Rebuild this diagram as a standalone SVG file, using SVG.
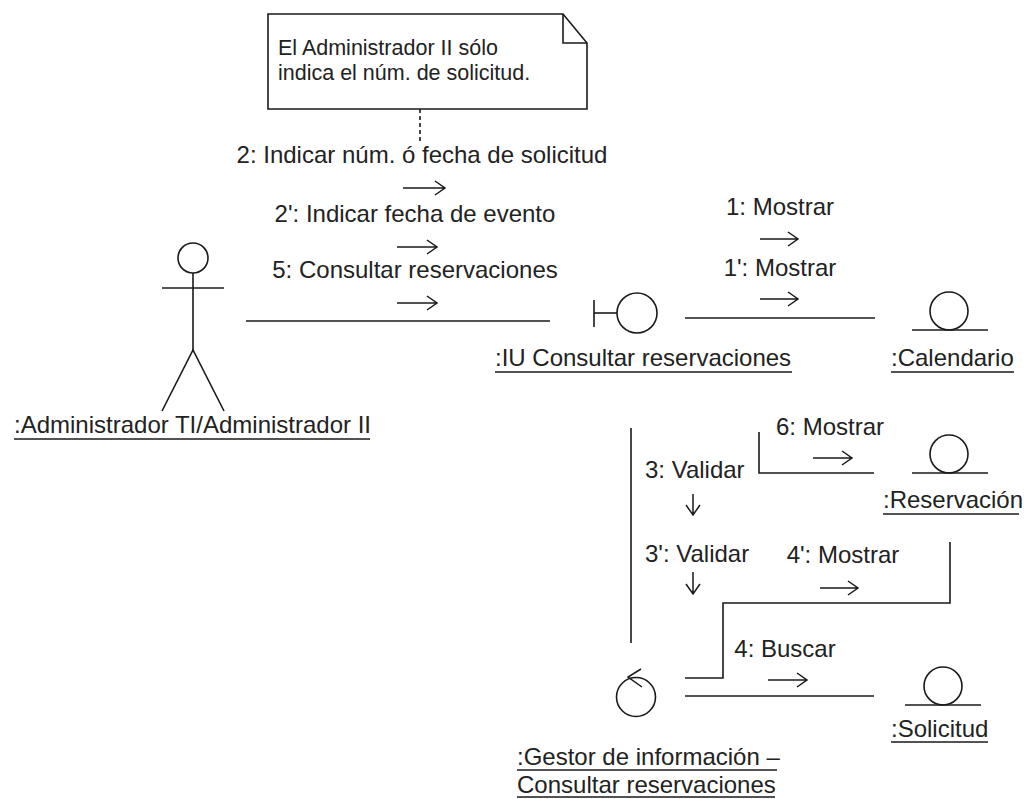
<svg xmlns="http://www.w3.org/2000/svg" width="1027" height="799" viewBox="0 0 1027 799">
<style>
  .ln{stroke:#1a1a1a;stroke-width:1.6;fill:none}
  .sh{stroke:#1a1a1a;stroke-width:1.6;fill:#fff}
  .t{font-family:"Liberation Sans",Arial,sans-serif;font-size:24px;fill:#222}
  .n{font-family:"Liberation Sans",Arial,sans-serif;font-size:21.5px;fill:#222}
  .m{text-anchor:middle}
  .ar{stroke:#1a1a1a;stroke-width:1.5;fill:none}
</style>
<rect width="1027" height="799" fill="#fff"/>

<g id="connectors">
  <line class="ln" x1="420" y1="109" x2="420" y2="141" stroke-dasharray="4,3"/>
  <line class="ln" x1="246" y1="321" x2="550" y2="321"/>
  <line class="ln" x1="685" y1="318" x2="875" y2="318"/>
  <line class="ln" x1="631" y1="428" x2="631" y2="643"/>
  <polyline class="ln" points="759,432 759,473 874,473"/>
  <polyline class="ln" points="685,678 723,678 723,603 950,603 950,542"/>
  <line class="ln" x1="685" y1="696" x2="874" y2="696"/>

  <text class="t m" x="422" y="163">2: Indicar núm. ó fecha de solicitud</text>
  <path class="ar" d="M403 188H445M435 181L445 188L435 195"/>
  <text class="t m" x="415" y="222">2': Indicar fecha de evento</text>
  <path class="ar" d="M397 247H437M427 240L437 247L427 254"/>
  <text class="t m" x="415" y="278">5: Consultar reservaciones</text>
  <path class="ar" d="M397 303H437M427 296L437 303L427 310"/>

  <text class="t m" x="780" y="215">1: Mostrar</text>
  <path class="ar" d="M760 239H798M788 232L798 239L788 246"/>
  <text class="t m" x="780" y="276">1': Mostrar</text>
  <path class="ar" d="M760 299H798M788 292L798 299L788 306"/>

  <text class="t m" x="830" y="435">6: Mostrar</text>
  <path class="ar" d="M813 458H852M842 451L852 458L842 465"/>

  <text class="t" x="645" y="478">3: Validar</text>
  <path class="ar" d="M693 494V515M686 505L693 515L700 505"/>
  <text class="t" x="645" y="562">3': Validar</text>
  <path class="ar" d="M693 572V594M686 584L693 594L700 584"/>

  <text class="t m" x="843" y="563">4': Mostrar</text>
  <path class="ar" d="M820 588H858M848 581L858 588L848 595"/>

  <text class="t m" x="785" y="657">4: Buscar</text>
  <path class="ar" d="M768 680H807M797 673L807 680L797 687"/>
</g>

<g id="note">
  <path class="sh" d="M268 14H563L587 43V109H268Z"/>
  <path class="ln" d="M563 14V43H587"/>
  <text class="n" x="278" y="55">El Administrador II sólo</text>
  <text class="n" x="278" y="80">indica el núm. de solicitud.</text>
</g>

<g id="actor">
  <circle class="sh" cx="193" cy="258" r="15"/>
  <line class="ln" x1="162" y1="288" x2="224" y2="288"/>
  <line class="ln" x1="193" y1="273" x2="193" y2="350"/>
  <polyline class="ln" points="162,411 193,350 224,411"/>
  <text class="t" x="14" y="433">:Administrador TI/Administrador II</text>
  <line class="ln" x1="14" y1="439" x2="370" y2="439"/>
</g>

<g id="iu">
  <line class="ln" x1="594" y1="300" x2="594" y2="327"/>
  <line class="ln" x1="594" y1="313" x2="617" y2="313"/>
  <circle class="sh" cx="637" cy="313" r="20"/>
  <text class="t" x="495" y="366">:IU Consultar reservaciones</text>
  <line class="ln" x1="495" y1="372" x2="792" y2="372"/>
</g>

<g id="calendario">
  <circle class="sh" cx="949" cy="311" r="19"/>
  <line class="ln" x1="912" y1="330" x2="988" y2="330"/>
  <text class="t" x="891" y="366">:Calendario</text>
  <line class="ln" x1="891" y1="372" x2="1014" y2="372"/>
</g>

<g id="reservacion">
  <circle class="sh" cx="949" cy="454" r="19"/>
  <line class="ln" x1="912" y1="473" x2="988" y2="473"/>
  <text class="t" x="883" y="508">:Reservación</text>
  <line class="ln" x1="883" y1="514" x2="1019" y2="514"/>
</g>

<g id="solicitud">
  <circle class="sh" cx="943" cy="686" r="19"/>
  <line class="ln" x1="905" y1="705" x2="981" y2="705"/>
  <text class="t" x="891" y="737">:Solicitud</text>
  <line class="ln" x1="891" y1="742" x2="988" y2="742"/>
</g>

<g id="gestor">
  <circle class="sh" cx="636" cy="697" r="19.5"/>
  <path class="ar" d="M641 669L628 677L642 687"/>
  <text class="t" x="517" y="765">:Gestor de información –</text>
  <line class="ln" x1="517" y1="770" x2="777" y2="770"/>
  <text class="t" x="517" y="793">Consultar reservaciones</text>
  <line class="ln" x1="517" y1="797" x2="775" y2="797"/>
</g>
</svg>
